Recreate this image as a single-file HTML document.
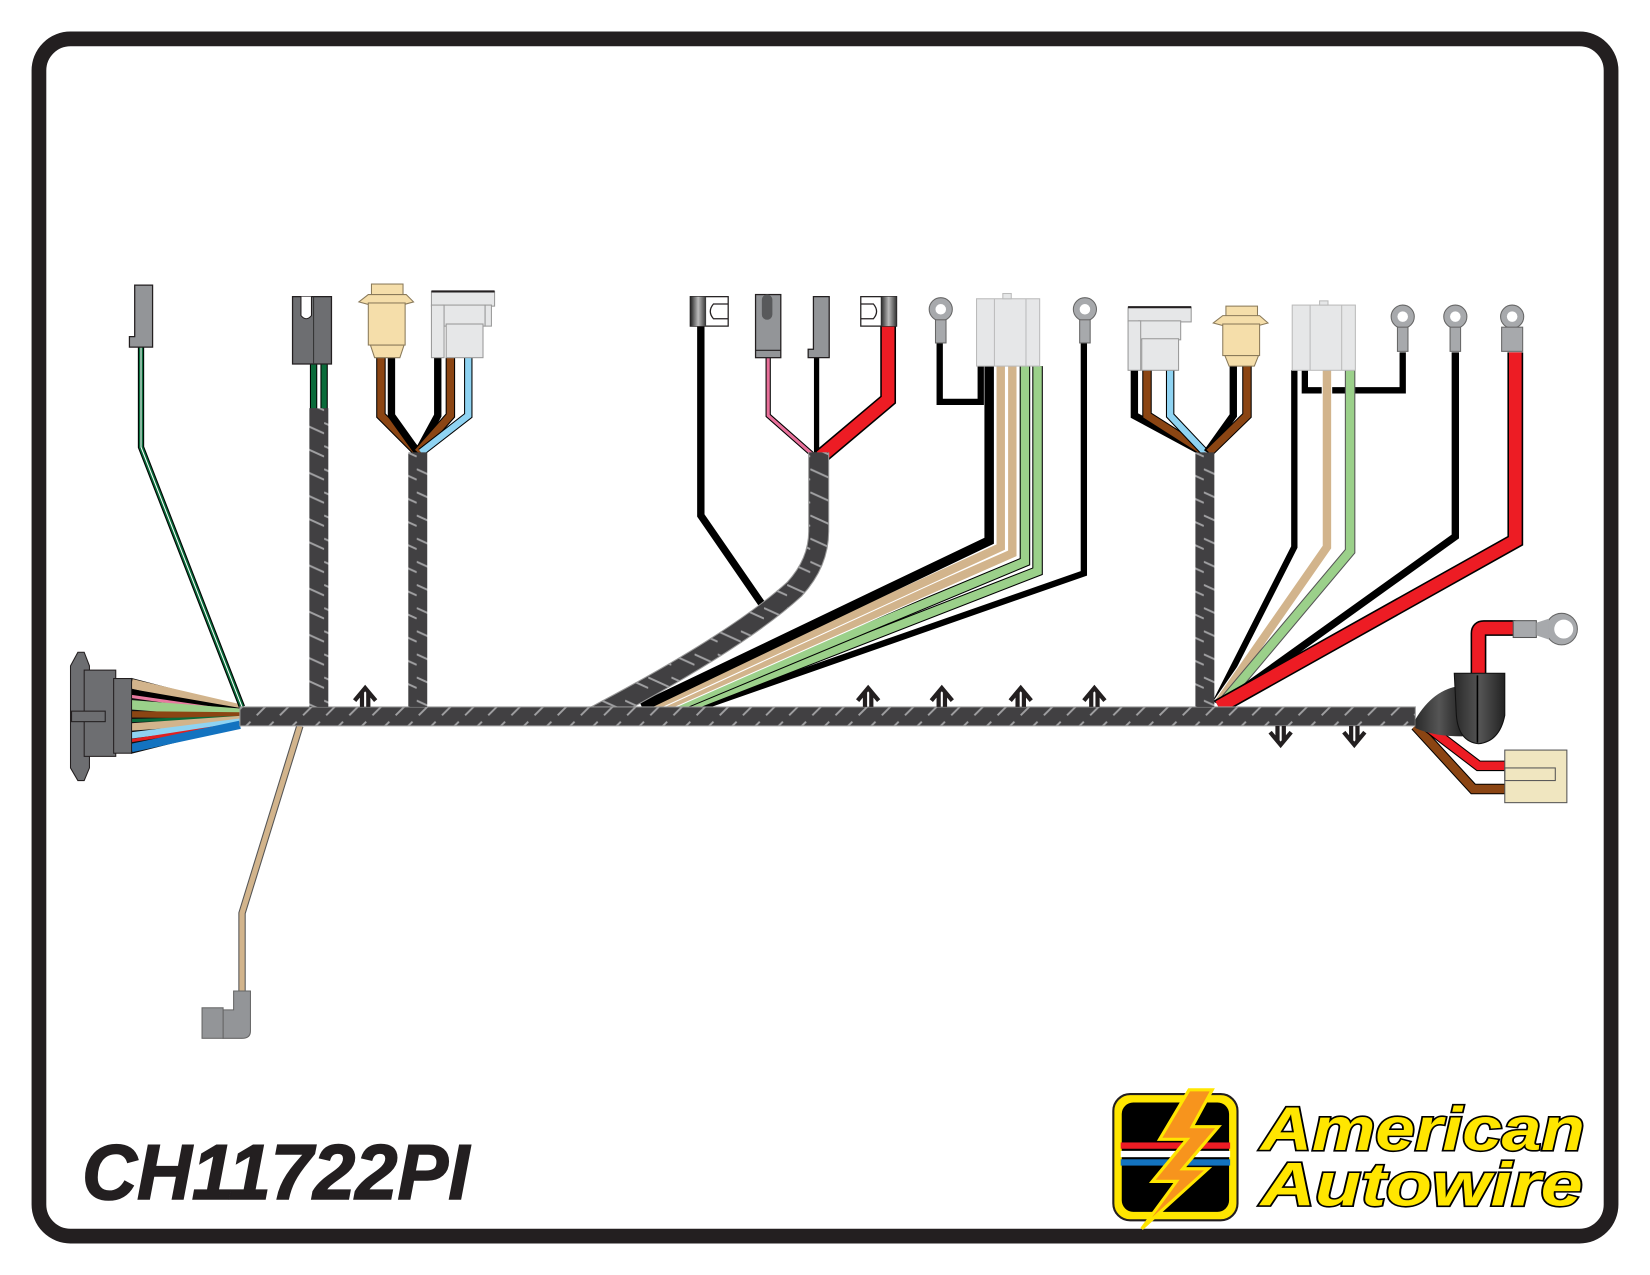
<!DOCTYPE html>
<html><head><meta charset="utf-8"><style>
html,body{margin:0;padding:0;background:#fff;}
svg{display:block;}
</style></head><body>
<svg width="1650" height="1275" viewBox="0 0 1568 1212" preserveAspectRatio="none" xmlns="http://www.w3.org/2000/svg">
<defs>
<pattern id="loom" patternUnits="userSpaceOnUse" width="22" height="22">
<rect width="22" height="22" fill="#414042"/>
<line x1="2" y1="20" x2="18" y2="4" stroke="#a0a0a2" stroke-width="1.8"/>
</pattern>
<pattern id="loomv" patternUnits="userSpaceOnUse" width="22" height="22">
<rect width="22" height="22" fill="#414042"/>
<line x1="0" y1="6" x2="22" y2="16" stroke="#a0a0a2" stroke-width="1.8"/>
</pattern>
<linearGradient id="gmet" x1="0" x2="1"><stop offset="0" stop-color="#222"/><stop offset="0.5" stop-color="#bbb"/><stop offset="1" stop-color="#333"/></linearGradient>
<linearGradient id="gboot" x1="0" x2="1"><stop offset="0" stop-color="#2a2a2a"/><stop offset="0.5" stop-color="#555"/><stop offset="1" stop-color="#222"/></linearGradient>
</defs>
<rect x="0" y="0" width="1568" height="1212" fill="#fff"/>
<rect x="37" y="37" width="1494" height="1138" rx="30" fill="none" stroke="#231f20" stroke-width="14"/>

<g fill="none" stroke-linejoin="miter" stroke-linecap="butt">
<polygon points="125,645 228,672 228,690 125,716" fill="#111" stroke="#111" stroke-width="1"/>
<path d="M125,650 L228,674" stroke="#d2b48c" stroke-width="9"/>
<path d="M125,658 L228,676" stroke="#000" stroke-width="6"/>
<path d="M125,662 L228,677" stroke="#e87aa0" stroke-width="3"/>
<path d="M125,670 L228,678" stroke="#9bd08a" stroke-width="9"/>
<path d="M125,679 L228,680" stroke="#8b4513" stroke-width="6"/>
<path d="M125,685 L228,682" stroke="#0a6b3a" stroke-width="3"/>
<path d="M125,691 L228,684" stroke="#d2b48c" stroke-width="7"/>
<path d="M125,699 L228,686" stroke="#8fd3f2" stroke-width="6"/>
<path d="M125,704 L228,688" stroke="#e02020" stroke-width="3"/>
<path d="M125,711 L228,689" stroke="#1373c0" stroke-width="8"/>

<path d="M134,330 L134,425 L230,672" stroke="#000" stroke-width="6"/>
<path d="M134,330 L134,425 L230,672" stroke="#0a6b3a" stroke-width="4"/>
<path d="M134,330 L134,425 L230,672" stroke="#fff" stroke-width="1"/>
<path d="M285,690 L230,868 L230,945" stroke="#555" stroke-width="7"/>
<path d="M285,690 L230,868 L230,945" stroke="#d2b48c" stroke-width="5"/>

<path d="M298,346 V392 M308,346 V392" stroke="#000" stroke-width="7"/>
<path d="M298,346 V392 M308,346 V392" stroke="#0a6b3a" stroke-width="5"/>

<path d="M397,430 L362,395 V340" stroke="#000" stroke-width="9"/><path d="M397,430 L362,395 V340" stroke="#8b4513" stroke-width="7"/>
<path d="M397,430 L372,395 V340" stroke="#000" stroke-width="7"/>
<path d="M397,430 L416,395 V340" stroke="#000" stroke-width="7"/>
<path d="M397,430 L428,395 V340" stroke="#000" stroke-width="9"/><path d="M397,430 L428,395 V340" stroke="#8b4513" stroke-width="7"/>
<path d="M400,430 L445,395 V340" stroke="#000" stroke-width="8"/><path d="M400,430 L445,395 V340" stroke="#8fd3f2" stroke-width="6"/>

<path d="M726,577 L666,490 V310" stroke="#000" stroke-width="7"/>
<path d="M772,432 L730,395 V340" stroke="#000" stroke-width="5"/><path d="M772,432 L730,395 V340" stroke="#e8709a" stroke-width="3"/>
<path d="M776,432 V340" stroke="#000" stroke-width="5"/>
<path d="M780,434 L844,380 V310" stroke="#000" stroke-width="15"/><path d="M780,434 L844,380 V310" stroke="#ed1c24" stroke-width="12"/>

<path d="M893,325 V382 H932 V348" stroke="#000" stroke-width="6"/>
<path d="M667,672 L1030,545 V325" stroke="#000" stroke-width="6"/>
<path d="M655,672 L986,543 V348" stroke="#000" stroke-width="10"/><path d="M655,672 L986,543 V348" stroke="#9bd08a" stroke-width="8"/>
<path d="M643,672 L974,534 V348" stroke="#000" stroke-width="10"/><path d="M643,672 L974,534 V348" stroke="#9bd08a" stroke-width="8"/>
<path d="M631,672 L962,526 V348" stroke="#fff" stroke-width="10"/><path d="M631,672 L962,526 V348" stroke="#d2b48c" stroke-width="8"/>
<path d="M620,672 L951,520 V348" stroke="#fff" stroke-width="10"/><path d="M620,672 L951,520 V348" stroke="#d2b48c" stroke-width="8"/>
<path d="M610,672 L940,514 V348" stroke="#000" stroke-width="9"/>

<path d="M1143,430 L1078,395 V352" stroke="#000" stroke-width="7"/>
<path d="M1145,430 L1090,395 V352" stroke="#000" stroke-width="9"/><path d="M1145,430 L1090,395 V352" stroke="#8b4513" stroke-width="7"/>
<path d="M1145,430 L1112,395 V352" stroke="#000" stroke-width="8"/><path d="M1145,430 L1112,395 V352" stroke="#8fd3f2" stroke-width="6"/>
<path d="M1147,430 L1172,395 V345" stroke="#000" stroke-width="7"/>
<path d="M1149,430 L1185,395 V345" stroke="#000" stroke-width="9"/><path d="M1149,430 L1185,395 V345" stroke="#8b4513" stroke-width="7"/>

<path d="M1240,352 V371 H1333 V335" stroke="#000" stroke-width="6"/>
<path d="M1155,668 L1230,520 V352" stroke="#000" stroke-width="6"/>
<path d="M1158,668 L1261,520 V352" stroke="#fff" stroke-width="10"/><path d="M1158,668 L1261,520 V352" stroke="#d2b48c" stroke-width="8"/>
<path d="M1162,668 L1283,524 V352" stroke="#555" stroke-width="10"/><path d="M1162,668 L1283,524 V352" stroke="#9bd08a" stroke-width="8"/>
<path d="M1160,670 L1383,510 V335" stroke="#000" stroke-width="7"/>
<path d="M1158,672 L1440,514 V335" stroke="#000" stroke-width="15"/><path d="M1158,672 L1440,514 V335" stroke="#ed1c24" stroke-width="12"/>

<path d="M1405,655 V602 Q1405,597 1410,597 H1440" stroke="#000" stroke-width="15"/><path d="M1405,655 V602 Q1405,597 1410,597 H1440" stroke="#ed1c24" stroke-width="12"/>
<path d="M1345,690 L1400,750 H1432" stroke="#000" stroke-width="10"/><path d="M1345,690 L1400,750 H1432" stroke="#8b4513" stroke-width="8"/>
<path d="M1350,686 L1405,728 H1432" stroke="#000" stroke-width="10"/><path d="M1350,686 L1405,728 H1432" stroke="#ed1c24" stroke-width="8"/>
</g>

<path d="M565,681 Q700,610 755,560 Q778,535 778,505 V430" fill="none" stroke="#999" stroke-width="20"/>
<path d="M565,681 Q700,610 755,560 Q778,535 778,505 V430" fill="none" stroke="url(#loomv)" stroke-width="18"/>
<rect x="228" y="672" width="1117" height="18" fill="url(#loom)" stroke="#999" stroke-width="1"/>
<rect x="294" y="388" width="18" height="284" fill="url(#loomv)"/>
<rect x="388" y="430" width="18" height="242" fill="url(#loomv)"/>
<rect x="1136" y="430" width="18" height="242" fill="url(#loomv)"/>

<g stroke="#231f20" stroke-width="4" fill="none">
<path d="M337,666 L347,654 L357,666 M344,672 V658 M350,672 V658"/>
<path d="M815,666 L825,654 L835,666 M822,672 V658 M828,672 V658"/>
<path d="M885,666 L895,654 L905,666 M892,672 V658 M898,672 V658"/>
<path d="M960,666 L970,654 L980,666 M967,672 V658 M973,672 V658"/>
<path d="M1030,666 L1040,654 L1050,666 M1037,672 V658 M1043,672 V658"/>
<path d="M1207,696 L1217,708 L1227,696 M1214,690 V704 M1220,690 V704"/>
<path d="M1277,696 L1287,708 L1297,696 M1284,690 V704 M1290,690 V704"/>
</g>

<g stroke="#231f20" stroke-width="1">
<path d="M74,620 H80 L85,633 V730 L80,742 H74 L67,730 V633 Z" fill="#6d6e71"/>
<rect x="80" y="637" width="30" height="82" fill="#6d6e71"/>
<rect x="108" y="645" width="17" height="71" fill="#6d6e71"/>
<rect x="68" y="676" width="32" height="10" fill="#6d6e71"/>
</g>
<path d="M128,271 H145 V330 H123 V320 H128 Z" fill="#939598" stroke="#231f20" stroke-width="1.2"/>
<path d="M222,942 H238 V980 Q238,987 230,987 H212 V960 H222 Z" fill="#939598" stroke="#666" stroke-width="1"/>
<rect x="192" y="958" width="20" height="29" fill="#939598" stroke="#666" stroke-width="1"/>

<path d="M278,282 H315 V346 H278 Z" fill="#6d6e71" stroke="#231f20" stroke-width="1.2"/>
<path d="M286,282 V300 Q291,306 296,300 V282" fill="#fff" stroke="#231f20" stroke-width="1"/>
<line x1="298" y1="282" x2="298" y2="346" stroke="#333"/>
<g stroke="#8a7a5a" stroke-width="1">
<rect x="353" y="270" width="30" height="15" fill="#f5deaa"/>
<path d="M341,287 L350,280 H386 L393,287 L367,294 Z" fill="#f5deaa"/>
<rect x="350" y="288" width="35" height="40" fill="#f5deaa"/>
<path d="M352,328 H384 L380,340 H356 Z" fill="#f5deaa"/>
</g>
<g stroke="#999" stroke-width="1" fill="#e6e7e8">
<rect x="410" y="277" width="60" height="14"/>
<rect x="421" y="290" width="40" height="20"/>
<rect x="424" y="308" width="35" height="32"/>
<rect x="410" y="290" width="12" height="50"/>
<rect x="461" y="290" width="6" height="20"/>
</g>
<line x1="410" y1="277" x2="470" y2="277" stroke="#231f20" stroke-width="2"/>

<rect x="656" y="282" width="36" height="28" fill="#fff" stroke="#231f20" stroke-width="1.2"/>
<rect x="656" y="282" width="15" height="28" fill="url(#gmet)"/>
<path d="M692,289 H678 Q672,296 678,303 H692" fill="none" stroke="#231f20" stroke-width="1.2"/>
<rect x="718" y="280" width="24" height="60" fill="#939598" stroke="#231f20" stroke-width="1.2"/>
<rect x="724" y="280" width="10" height="24" rx="5" fill="#58595b"/>
<line x1="718" y1="333" x2="742" y2="333" stroke="#231f20"/>
<path d="M773,282 H788 V340 H768 V332 H773 Z" fill="#939598" stroke="#231f20" stroke-width="1.2"/>
<rect x="818" y="282" width="34" height="28" fill="#fff" stroke="#231f20" stroke-width="1.2"/>
<rect x="837" y="282" width="15" height="28" fill="url(#gmet)"/>
<path d="M818,289 H830 Q836,296 830,303 H818" fill="none" stroke="#231f20" stroke-width="1.2"/>

<g fill="#a7a9ac" stroke="#666" stroke-width="1">
<circle cx="894" cy="294" r="11"/><rect x="889" y="304" width="10" height="22"/>
<circle cx="1031" cy="294" r="11"/><rect x="1026" y="304" width="10" height="22"/>
<circle cx="1333" cy="301" r="11"/><rect x="1328" y="311" width="10" height="23"/>
<circle cx="1383" cy="301" r="11"/><rect x="1378" y="311" width="10" height="23"/>
<circle cx="1437" cy="301" r="11"/><rect x="1427" y="311" width="20" height="23"/>
</g>
<g fill="#fff"><circle cx="894" cy="294" r="5"/><circle cx="1031" cy="294" r="5"/><circle cx="1333" cy="301" r="5"/><circle cx="1383" cy="301" r="5"/><circle cx="1437" cy="301" r="5"/></g>

<g stroke="#bbb" stroke-width="1" fill="#e6e7e8">
<rect x="928" y="284" width="60" height="64"/>
<line x1="945" y1="284" x2="945" y2="348"/><line x1="975" y1="284" x2="975" y2="348"/>
<rect x="953" y="279" width="8" height="5"/>
</g>
<g stroke="#999" stroke-width="1" fill="#e6e7e8">
<rect x="1072" y="292" width="60" height="14"/>
<rect x="1082" y="305" width="40" height="18"/>
<rect x="1085" y="322" width="35" height="30"/>
<rect x="1072" y="305" width="12" height="47"/>
</g>
<line x1="1072" y1="292" x2="1132" y2="292" stroke="#231f20" stroke-width="2"/>
<g stroke="#8a7a5a" stroke-width="1">
<rect x="1165" y="291" width="30" height="15" fill="#f5deaa"/>
<path d="M1153,307 L1162,300 H1197 L1205,307 L1179,314 Z" fill="#f5deaa"/>
<rect x="1162" y="308" width="35" height="30" fill="#f5deaa"/>
<path d="M1164,338 H1196 L1192,348 H1168 Z" fill="#f5deaa"/>
</g>
<g stroke="#bbb" stroke-width="1" fill="#e6e7e8">
<rect x="1228" y="290" width="60" height="62"/>
<line x1="1245" y1="290" x2="1245" y2="352"/><line x1="1275" y1="290" x2="1275" y2="352"/>
<rect x="1254" y="286" width="8" height="4"/>
</g>

<path d="M1345,684 Q1362,655 1388,652 L1390,700 Q1362,700 1345,692 Z" fill="url(#gboot)"/>
<path d="M1382,640 H1430 V680 Q1425,705 1405,707 Q1386,705 1384,680 Z" fill="url(#gboot)" stroke="#111" stroke-width="1"/>
<line x1="1404" y1="642" x2="1404" y2="706" stroke="#000" stroke-width="1.5"/>
<rect x="1438" y="590" width="22" height="16" fill="#a7a9ac" stroke="#555"/>
<circle cx="1484" cy="598" r="15" fill="#a7a9ac" stroke="#666"/><circle cx="1486" cy="598" r="9" fill="#fff"/>
<path d="M1460,592 L1472,588 V608 L1460,604 Z" fill="#a7a9ac"/>
<rect x="1430" y="713" width="59" height="50" fill="#f0e6c0" stroke="#555"/>
<rect x="1430" y="730" width="48" height="12" fill="none" stroke="#555"/>

<text x="78" y="1140" font-family="Liberation Sans, sans-serif" font-weight="bold" font-style="italic" font-size="74" fill="#231f20" stroke="#231f20" stroke-width="1.5" textLength="368" lengthAdjust="spacingAndGlyphs">CH11722PI</text>

<rect x="1058" y="1040" width="118" height="120" rx="16" fill="#ffe600" stroke="#231f20" stroke-width="2"/>
<rect x="1065" y="1047" width="104" height="106" rx="12" fill="#000" stroke="#ffe600" stroke-width="2"/>
<rect x="1065" y="1086" width="104" height="6" fill="#ed1c24"/>
<rect x="1065" y="1094" width="104" height="6" fill="#fff"/>
<rect x="1065" y="1102" width="104" height="6" fill="#1373c0"/>
<path d="M1130,1036 L1102,1083 L1128,1083 L1095,1123 L1118,1123 L1085,1168 L1148,1111 L1124,1111 L1158,1071 L1133,1071 L1152,1036 Z" fill="#f7941d" stroke="#ffe600" stroke-width="3"/>
<g font-family="Liberation Sans, sans-serif" font-weight="bold" font-style="italic" font-size="58" fill="#ffe600" stroke="#000" stroke-width="3" paint-order="stroke">
<text x="1198" y="1093" textLength="308" lengthAdjust="spacingAndGlyphs">American</text>
<text x="1198" y="1146" textLength="306" lengthAdjust="spacingAndGlyphs">Autowire</text>
</g>
</svg>
</body></html>
